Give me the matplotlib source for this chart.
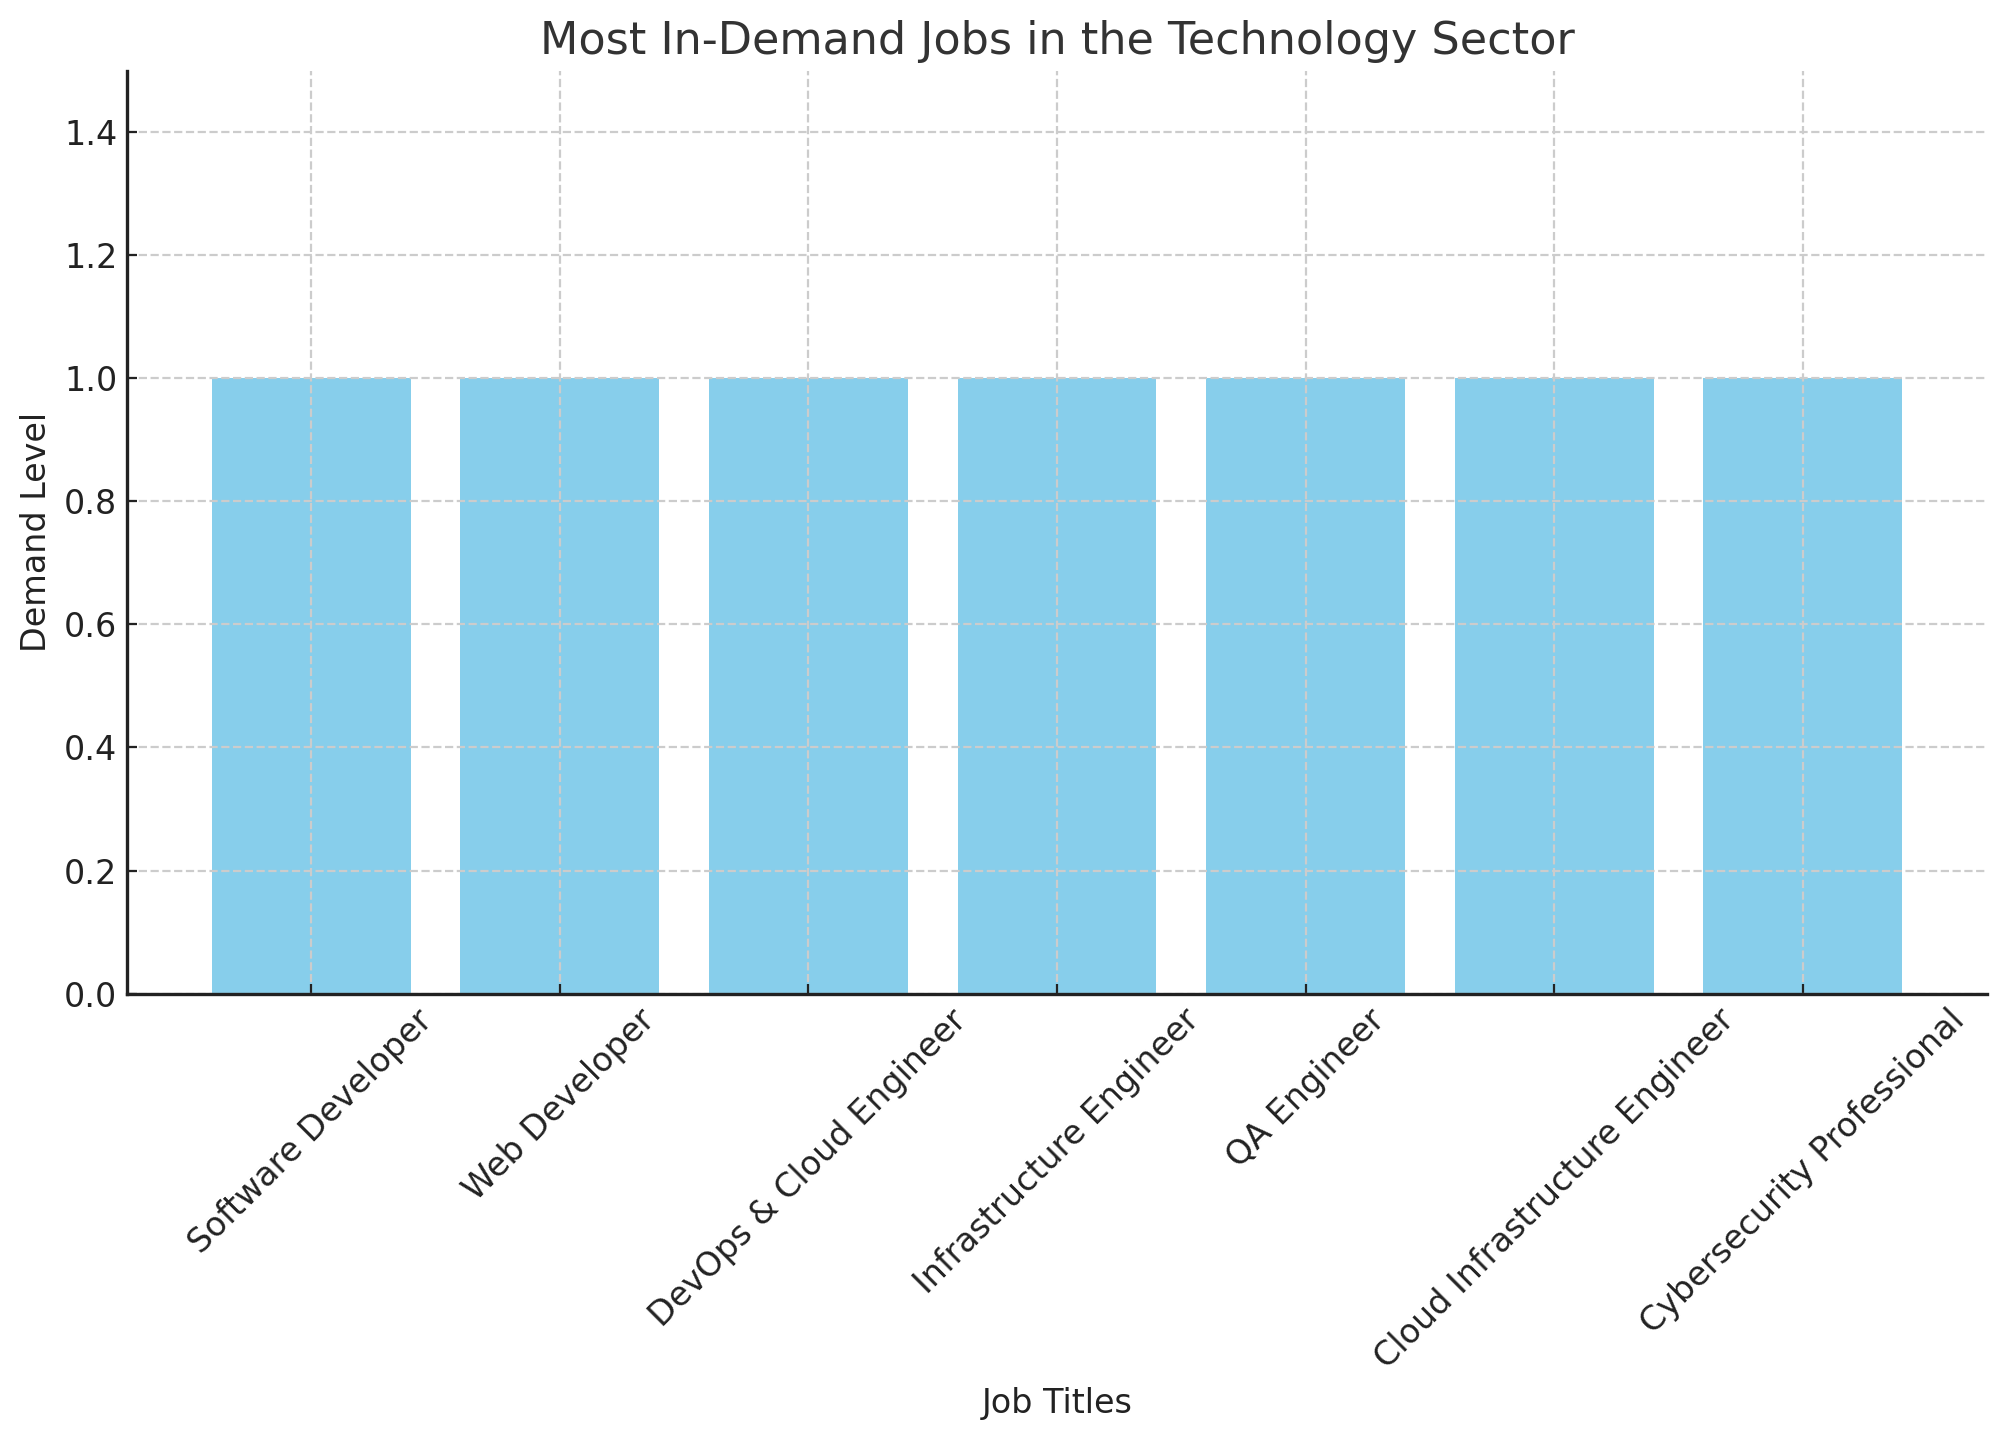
import matplotlib
matplotlib.use("Agg")
import matplotlib.pyplot as plt

jobs = ["Software Developer", "Web Developer", "DevOps & Cloud Engineer",
        "Infrastructure Engineer", "QA Engineer", "Cloud Infrastructure Engineer",
        "Cybersecurity Professional"]
demand = [1, 1, 1, 1, 1, 1, 1]
yticks = [0.0, 0.2, 0.4, 0.6, 0.8, 1.0, 1.2, 1.4]

fig = plt.figure(figsize=(10.035, 7.2), dpi=200)
ax = fig.add_axes([0.0633, 0.310, 0.9267, 0.641])

ax.bar(jobs, demand, color="#87CEEB", width=0.8, zorder=1)
ax.set_ylim(0, 1.5)
ax.set_yticks(yticks)
ax.set_yticklabels([f"{v:.1f}" for v in yticks])

ax.set_axisbelow(False)
ax.grid(True, linestyle="--", color="#cccccc", linewidth=0.8)
for s in ["top", "right"]:
    ax.spines[s].set_visible(False)
for s in ["left", "bottom"]:
    ax.spines[s].set_color("#222222")
    ax.spines[s].set_linewidth(1.2)
    ax.spines[s].set_zorder(3)

ax.tick_params(direction="in", colors="#222222", labelsize=12)
plt.setp(ax.get_xticklabels(), rotation=45)

ax.set_title("Most In-Demand Jobs in the Technology Sector", fontsize=16, color="#333333")
ax.set_xlabel("Job Titles", fontsize=12, color="#222222")
ax.set_ylabel("Demand Level", fontsize=12, color="#222222")

fig.savefig("out.png", dpi=200)
